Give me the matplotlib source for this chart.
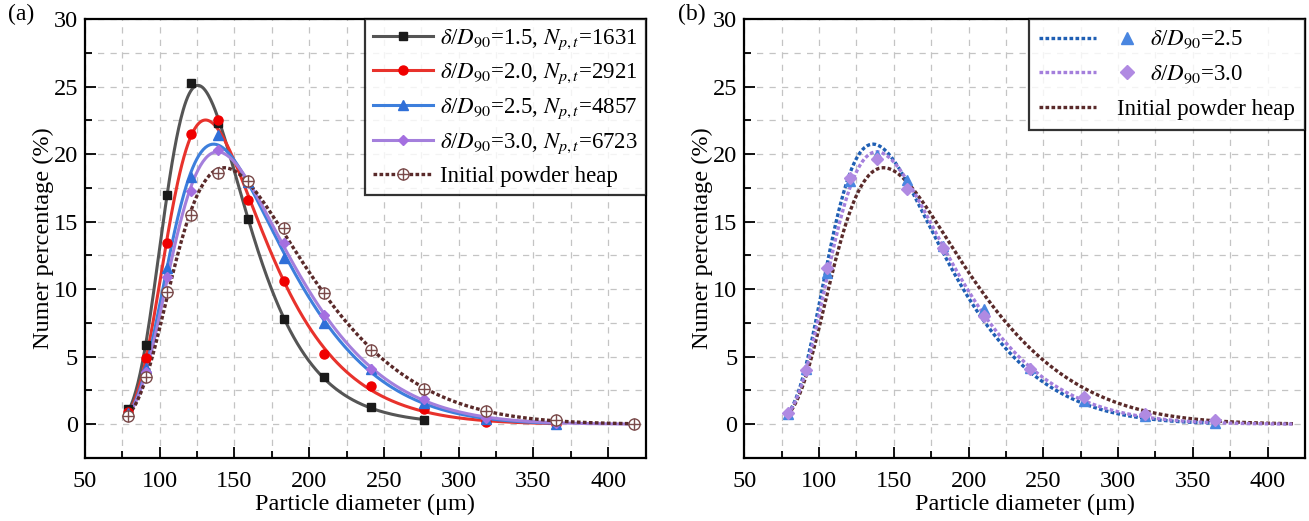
import numpy as np
import matplotlib
matplotlib.use("Agg")
import matplotlib.pyplot as plt
from matplotlib.legend_handler import HandlerTuple, HandlerBase
from matplotlib.lines import Line2D

plt.rcParams['font.family'] = ['Liberation Serif', 'DejaVu Serif']
plt.rcParams['mathtext.fontset'] = 'stix'

# bin centres (um)
diam = [79, 91, 105, 121, 139, 159, 183, 210, 241, 277, 318, 365, 417]

# (a) simulated distributions, number percentage (%)
d15 = [1.1, 5.85, 17.0, 25.3, 22.3, 15.2, 7.8, 3.5, 1.25, 0.3]
d20 = [0.9, 4.9, 13.4, 21.5, 22.5, 16.6, 10.6, 5.2, 2.8, 1.1, 0.15, 0.02]
d25 = [0.8, 4.2, 11.6, 18.3, 21.4, 17.9, 12.3, 7.5, 4.1, 1.6, 0.4, 0.05]
d30 = [0.7, 3.9, 10.9, 17.3, 20.3, 17.9, 13.4, 8.1, 4.1, 1.9, 0.45, 0.12, 0.02]
init = [0.6, 3.5, 9.8, 15.5, 18.6, 18.0, 14.5, 9.7, 5.5, 2.6, 1.0, 0.3, 0.02]

# (b) markers
b25 = [0.74, 4.06, 11.2, 18.0, 19.9, 18.1, 13.2, 8.5, 4.2, 1.72, 0.6, 0.12]
b30 = [0.86, 4.0, 11.6, 18.2, 19.65, 17.4, 13.05, 8.0, 4.06, 2.04, 0.74, 0.32]

labels_a = [r'$\delta$/$D_{90}$=1.5, $N_{p,t}$=1631',
            r'$\delta$/$D_{90}$=2.0, $N_{p,t}$=2921',
            r'$\delta$/$D_{90}$=2.5, $N_{p,t}$=4857',
            r'$\delta$/$D_{90}$=3.0, $N_{p,t}$=6723']


def skew_lognorm_fit(y):
    # fit ln(y) with a polynomial in ln(x) -> smooth skewed log-normal curve
    x = np.array(diam[:len(y)], float)
    y = np.array(y, float)
    c = np.polyfit(np.log(x), np.log(y), 4, w=np.sqrt(y))
    xs = np.linspace(x[0], x[-1], 400)
    return xs, np.exp(np.polyval(c, np.log(xs)))


class LineThenMarker(HandlerBase):
    # legend key: a line, then the marker standing on its own to the right
    def __init__(self, line_kw, marker_kw, gap):
        super().__init__()
        self.line_kw = line_kw
        self.marker_kw = marker_kw
        self.gap = gap

    def create_artists(self, legend, orig_handle, xdescent, ydescent,
                       width, height, fontsize, trans):
        y = height / 2 - ydescent
        ln = Line2D([-xdescent, -xdescent + width], [y, y], **self.line_kw)
        ln.set_transform(trans)
        out = [ln]
        if self.marker_kw:
            mk = Line2D([-xdescent + width + self.gap], [y], ls='', **self.marker_kw)
            mk.set_transform(trans)
            out.append(mk)
        return out


fig = plt.figure(figsize=(13.09, 5.21), dpi=100)
ax1 = fig.add_axes([0.0649, 0.1209, 0.4283, 0.8426])
ax2 = fig.add_axes([0.5686, 0.1209, 0.4283, 0.8426])

dot = (0, (1.1, 0.7))

for ax in (ax1, ax2):
    ax.set_xlim(50, 425)
    ax.set_ylim(-2.5, 30)
    ax.set_xticks(np.arange(50, 401, 50))
    ax.set_xticks(np.arange(75, 425, 50), minor=True)
    ax.set_yticks(np.arange(0, 31, 5))
    ax.set_yticks(np.arange(2.5, 30, 5), minor=True)
    ax.grid(True, which='both', color='#c4c4c4', linestyle=(0, (5, 5)), linewidth=0.9)
    ax.set_axisbelow(True)
    ax.tick_params(which='both', direction='in', top=False, right=False, labelsize=17.5, width=1.3)
    ax.tick_params(which='major', length=8, pad=5)
    ax.tick_params(axis='x', which='major', pad=9)
    ax.tick_params(which='minor', length=5)
    for s in ax.spines.values():
        s.set_linewidth(1.6)
    ax.set_xlabel('Particle diameter (μm)', fontsize=17.5, labelpad=2)
    ax.set_ylabel('Numer percentage (%)', fontsize=17.5, labelpad=0)

# ---- (a)
styles = [('#555555', '#1a1a1a', 's', 5.5),
          ('#e8322c', '#f00000', 'o', 6.5),
          ('#3d7fdc', '#2f6fd8', '^', 6.5),
          ('#a47fdc', '#a46fe0', 'D', 5.5)]
handles = []
for ys, lab, (lc, mc, mk, ms) in zip([d15, d20, d25, d30], labels_a, styles):
    xs, fit = skew_lognorm_fit(ys)
    ax1.plot(xs, fit, color=lc, lw=2.2, zorder=3)
    ax1.plot(diam[:len(ys)], ys, mk, color=mc, ms=ms, zorder=4)
    handles.append(Line2D([], [], color=lc, lw=2.2, marker=mk, mfc=mc, mec=mc, ms=ms))

xs, fit_init = skew_lognorm_fit(init)
ax1.plot(xs, fit_init, color='#5a2a2a', lw=2.4, linestyle=dot, zorder=3)
ax1.plot(diam, init, 'o', mfc='white', mec='#7a4a4a', ms=8, mew=1.0, zorder=5)
ax1.plot(diam, init, '+', color='#7a4a4a', ms=8, mew=1.0, zorder=6)
handles.append((Line2D([], [], color='#5a2a2a', lw=2.4, linestyle=dot),
                Line2D([], [], marker='o', ls='', mfc='white', mec='#7a4a4a', ms=8),
                Line2D([], [], marker='+', ls='', color='#7a4a4a', ms=8)))

leg = ax1.legend(handles, labels_a + ['Initial powder heap'], loc='upper right',
                 fontsize=16.5, frameon=True, fancybox=False, borderaxespad=0,
                 handlelength=2.6, handletextpad=0.3, labelspacing=0.45,
                 borderpad=0.35, handler_map={tuple: HandlerTuple(ndivide=1)})
leg.get_frame().set_edgecolor('black')
leg.get_frame().set_linewidth(1.6)

# ---- (b)
xs, f25 = skew_lognorm_fit(d25)
ax2.plot(xs, f25, color='#1f5fb4', lw=2.4, linestyle=dot, zorder=3)
xs, f30 = skew_lognorm_fit(d30)
ax2.plot(xs, f30, color='#a47fdc', lw=2.4, linestyle=dot, zorder=3)
xs, fi = skew_lognorm_fit(init)
ax2.plot(xs, fi, color='#5a2a2a', lw=2.4, linestyle=dot, zorder=2)
ax2.plot(diam[:len(b25)], b25, '^', color='#4a86e0', ms=7, zorder=4)
ax2.plot(diam[:len(b30)], b30, 'D', color='#b08ae2', ms=6, zorder=5)

hb = [Line2D([], []), Line2D([], []), Line2D([], [])]
hmap = {
    hb[0]: LineThenMarker(dict(color='#1f5fb4', lw=2.4, linestyle=dot),
                          dict(marker='^', color='#4a86e0', ms=8), 22),
    hb[1]: LineThenMarker(dict(color='#a47fdc', lw=2.4, linestyle=dot),
                          dict(marker='D', color='#b08ae2', ms=7), 22),
    hb[2]: LineThenMarker(dict(color='#5a2a2a', lw=2.4, linestyle=dot), None, 0),
}
leg2 = ax2.legend(hb, [r'$\quad\quad\delta$/$D_{90}$=2.5', r'$\quad\quad\delta$/$D_{90}$=3.0',
                       'Initial powder heap'],
                  loc='upper right', fontsize=16.5, frameon=True, fancybox=False,
                  borderaxespad=0, handlelength=2.5, handletextpad=0.9, labelspacing=0.55,
                  borderpad=0.45, handler_map=hmap)
leg2.get_frame().set_edgecolor('black')
leg2.get_frame().set_linewidth(1.6)

fig.text(0.006, 0.962, '(a)', fontsize=17)
fig.text(0.518, 0.962, '(b)', fontsize=17)

fig.savefig('out.png', dpi=100)
